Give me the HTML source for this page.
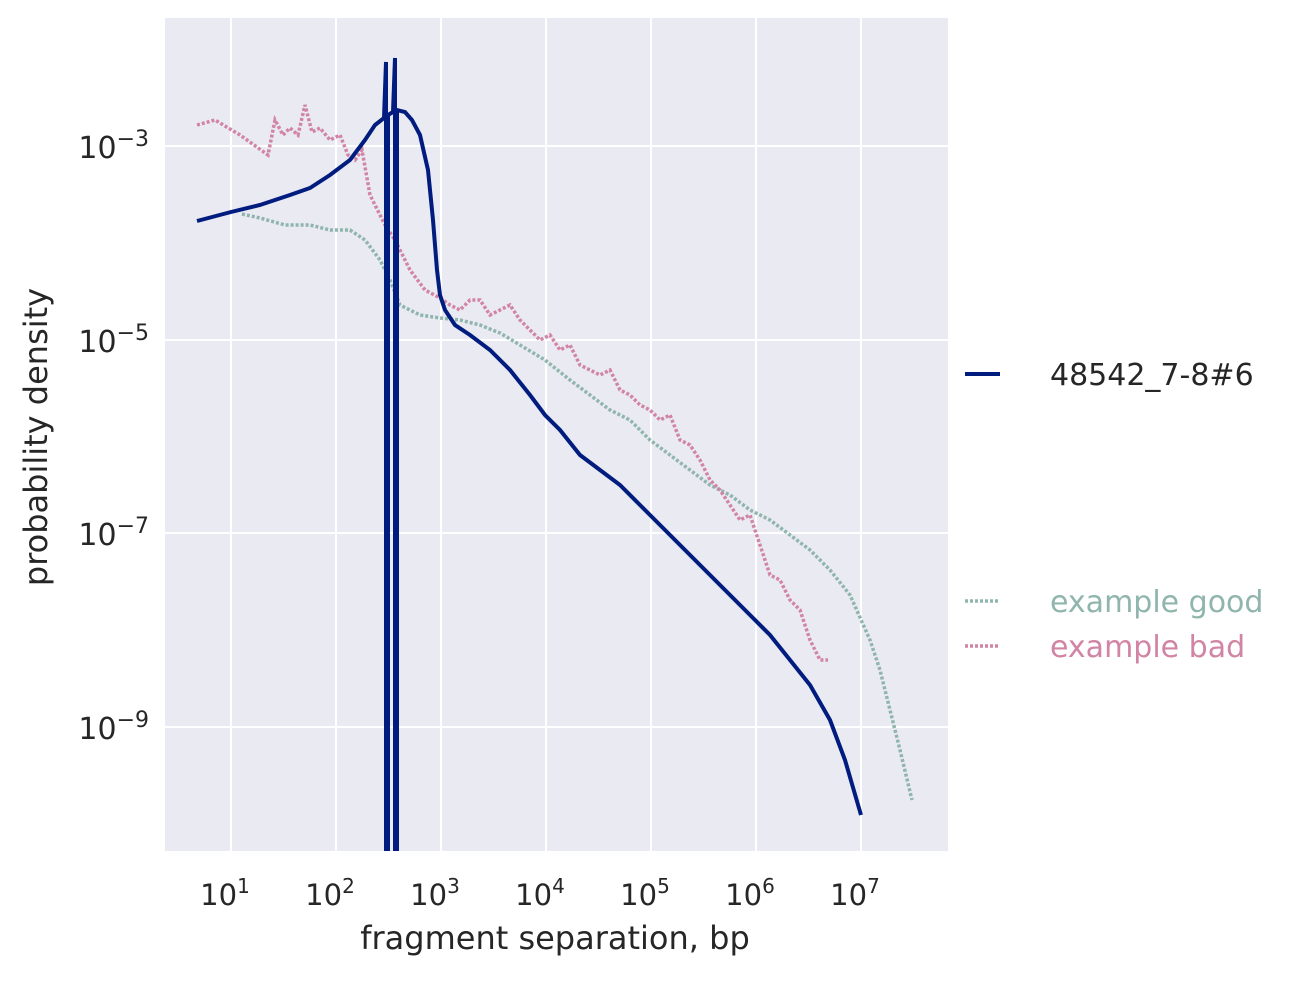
<!DOCTYPE html>
<html><head><style>body{margin:0;background:#fff}</style></head><body>
<svg width="1295" height="976" xmlns="http://www.w3.org/2000/svg" font-family="DejaVu Sans, Liberation Sans, sans-serif">
<rect x="165" y="18" width="783" height="833" fill="#eaeaf2"/>
<g stroke="#fff" stroke-width="2">
<line x1="231" y1="18" x2="231" y2="851"/><line x1="336" y1="18" x2="336" y2="851"/><line x1="441" y1="18" x2="441" y2="851"/><line x1="546" y1="18" x2="546" y2="851"/><line x1="651" y1="18" x2="651" y2="851"/><line x1="756" y1="18" x2="756" y2="851"/><line x1="861" y1="18" x2="861" y2="851"/>
<line x1="165" y1="146" x2="948" y2="146"/><line x1="165" y1="340" x2="948" y2="340"/><line x1="165" y1="533" x2="948" y2="533"/><line x1="165" y1="727" x2="948" y2="727"/>
</g>
<clipPath id="c"><rect x="165" y="18" width="783" height="833"/></clipPath>
<g clip-path="url(#c)" fill="none">
<polyline stroke="#8fb5ad" stroke-width="3.5" stroke-dasharray="3,2" points="242,214 260,218 285,225 310,225 330,230 350,230 365,240 380,260 390,280 400,305 420,315 440,318 460,320 480,325 500,333 520,345 545,360 570,380 590,395 610,410 630,420 650,440 670,455 690,470 710,485 730,495 750,510 770,520 790,535 810,550 830,570 850,595 870,640 880,670 890,710 900,750 912,800"/>
<polyline stroke="#d184a4" stroke-width="3.5" stroke-dasharray="3,2" points="197,125 215,120 240,135 268,155 275,120 283,135 290,128 298,135 305,105 312,132 320,128 330,140 340,135 348,155 355,160 362,150 370,195 385,225 395,240 400,250 410,270 425,290 440,298 450,305 460,310 470,300 480,300 490,315 500,310 510,305 520,320 530,330 540,340 550,335 560,350 570,345 580,365 590,370 600,375 610,370 620,390 630,395 640,405 650,410 660,420 670,415 680,440 690,445 700,460 710,480 720,490 730,505 740,520 750,515 760,545 770,575 780,580 790,600 800,610 810,640 820,660 828,660"/>
<polyline stroke="#001c7f" stroke-width="4" points="197,221 231,212 260,205 290,195 310,188 330,175 350,160 365,140 375,125 384,118 386,62 386,851 388,851 388,115 393,112 395,58 395,851 397,851 397,110 405,112 412,120 420,135 428,170 433,220 437,270 440,295 445,310 455,325 470,335 490,350 510,370 530,395 545,415 560,430 580,455 600,470 620,485 640,505 655,520 670,535 690,555 710,575 730,595 750,615 770,635 790,660 810,685 830,720 845,760 861,815"/>
</g>
<g fill="#262626" font-size="29" text-anchor="middle">
<text x="225" y="905">10<tspan font-size="20" dy="-12">1</tspan></text>
<text x="330" y="905">10<tspan font-size="20" dy="-12">2</tspan></text>
<text x="435" y="905">10<tspan font-size="20" dy="-12">3</tspan></text>
<text x="540" y="905">10<tspan font-size="20" dy="-12">4</tspan></text>
<text x="645" y="905">10<tspan font-size="20" dy="-12">5</tspan></text>
<text x="750" y="905">10<tspan font-size="20" dy="-12">6</tspan></text>
<text x="855" y="905">10<tspan font-size="20" dy="-12">7</tspan></text>
</g>
<g fill="#262626" font-size="30" text-anchor="end">
<text x="149" y="158">10<tspan font-size="22" dy="-12">−3</tspan></text>
<text x="149" y="352">10<tspan font-size="22" dy="-12">−5</tspan></text>
<text x="149" y="545">10<tspan font-size="22" dy="-12">−7</tspan></text>
<text x="149" y="739">10<tspan font-size="22" dy="-12">−9</tspan></text>
</g>
<text x="555" y="949" font-size="32" fill="#262626" text-anchor="middle">fragment separation, bp</text>
<text transform="translate(47,437) rotate(-90)" font-size="32" fill="#262626" text-anchor="middle">probability density</text>
<line x1="965" y1="374" x2="1000" y2="374" stroke="#001c7f" stroke-width="4"/>
<text x="1050" y="385" font-size="30" fill="#262626">48542_7-8#6</text>
<line x1="965" y1="601" x2="1000" y2="601" stroke="#8fb5ad" stroke-width="3.5" stroke-dasharray="3,2"/>
<text x="1050" y="612" font-size="30" fill="#8fb5ad">example good</text>
<line x1="965" y1="646" x2="1000" y2="646" stroke="#d184a4" stroke-width="3.5" stroke-dasharray="3,2"/>
<text x="1050" y="657" font-size="30" fill="#d184a4">example bad</text>
</svg>
</body></html>
